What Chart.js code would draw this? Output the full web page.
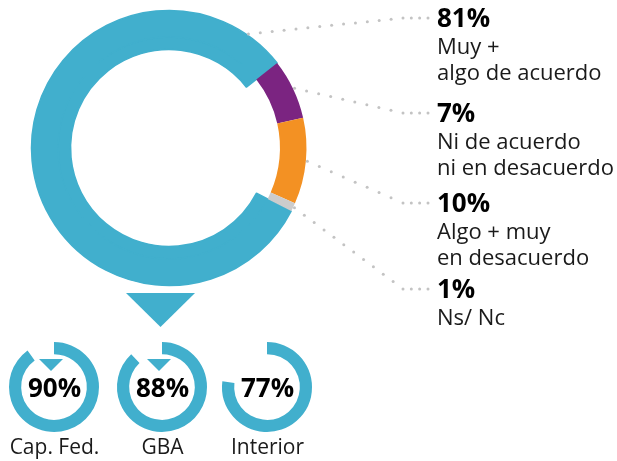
<!DOCTYPE html>
<html>
<head>
<meta charset="utf-8">
<script src="https://cdn.jsdelivr.net/npm/chart.js@4.4.0/dist/chart.umd.min.js"></script>
<style>
  body { margin: 0; background: #fff; }
  #wrap { position: relative; width: 617px; height: 461px; overflow: hidden; }
  canvas { position: absolute; }
</style>
</head>
<body>
<div id="wrap">
  <canvas id="main" width="617" height="461" style="left:0;top:0"></canvas>
  <canvas id="s0" width="108" height="129" style="left:0;top:332px"></canvas>
  <canvas id="s1" width="108" height="129" style="left:108px;top:332px"></canvas>
  <canvas id="s2" width="108" height="129" style="left:213px;top:332px"></canvas>
</div>
<script>
// data
const categories = [['Muy +', 'algo de acuerdo'], ['Ni de acuerdo', 'ni en desacuerdo'], ['Algo + muy', 'en desacuerdo'], ['Ns/ Nc']];
const values = [81, 7, 10, 1];
const regions = ['Cap. Fed.', 'GBA', 'Interior'];
const regionValues = [90, 88, 77];

const BLUE = '#41afcd';
const colors = [BLUE, '#7b2481', '#f39123', '#cccccc'];
const NONE = 'rgba(0,0,0,0)';
const FONT = "'Open Sans', 'Noto Sans', sans-serif";

// where the percentage labels sit (baselines) on the right
const pctBaseline = [27, 122, 212, 298];
const textX = 437, elbowX = 403, leaderEndX = 428;

function dots(ctx, x0, y0, x1, y1, step) {
    const len = Math.hypot(x1 - x0, y1 - y0);
    const n = Math.max(1, Math.round(len / step));
    for (let k = 0; k <= n; k++) {
        const t = k / n;
        ctx.beginPath();
        ctx.arc(x0 + (x1 - x0) * t, y0 + (y1 - y0) * t, 1.5, 0, Math.PI * 2);
        ctx.fill();
    }
}

const mainDecor = {
    id: 'mainDecor',
    afterDatasetsDraw(chart) {
        const ctx = chart.ctx;
        const arcs = chart.getDatasetMeta(0).data;
        const cx = arcs[0].x, cy = arcs[0].y, r = arcs[0].outerRadius;
        ctx.save();
        // leader lines
        ctx.fillStyle = '#c3c3c3';
        arcs.forEach((arc, i) => {
            const a = i === 0 ? arc.endAngle - 17 * Math.PI / 180 : (arc.startAngle + arc.endAngle) / 2;
            const sx = cx + (r + 1.5) * Math.cos(a), sy = cy + (r + 1.5) * Math.sin(a);
            const ty = pctBaseline[i] - 9;
            dots(ctx, sx, sy, elbowX, ty, 12.3);
            dots(ctx, elbowX + 8.3, ty, leaderEndX, ty, 8.3);
        });
        // labels
        ctx.textAlign = 'left';
        ctx.textBaseline = 'alphabetic';
        values.forEach((v, i) => {
            ctx.fillStyle = '#000';
            ctx.font = 'bold 26px ' + FONT;
            ctx.fillText(v + '%', textX, pctBaseline[i]);
            ctx.fillStyle = '#1a1a1a';
            ctx.font = '22px ' + FONT;
            categories[i].forEach((line, j) => {
                ctx.fillText(line, textX, pctBaseline[i] + 26.5 * (j + 1));
            });
        });
        // pointer triangle under the big ring
        const tx = cx - 8.5, ty = cy + r + 7.5;
        ctx.fillStyle = BLUE;
        ctx.beginPath();
        ctx.moveTo(tx - 34.5, ty);
        ctx.lineTo(tx + 34.5, ty);
        ctx.lineTo(tx, ty + 34);
        ctx.closePath();
        ctx.fill();
        ctx.restore();
    }
};

new Chart(document.getElementById('main'), {
    type: 'doughnut',
    data: {
        labels: categories.map(c => c.join(' ')),
        datasets: [
            { data: values, backgroundColor: colors,
              borderColor: colors.map((c, i) => i === 0 ? c : NONE),
              borderWidth: [1.5, 0, 0, 0], weight: 26.5 },
            { data: values, backgroundColor: colors.map((c, i) => i === 0 ? c : NONE),
              borderColor: colors.map((c, i) => i === 0 ? c : NONE),
              borderWidth: [1.5, 0, 0, 0], weight: 12.5 }
        ]
    },
    options: {
        responsive: false,
        animation: false,
        events: [],
        radius: 137.5,
        cutout: '71.6%',
        rotation: 117.3,
        layout: { padding: { left: 0, top: 0, right: 279, bottom: 165 } },
        plugins: { legend: { display: false }, tooltip: { enabled: false } }
    },
    plugins: [mainDecor]
});

const smallDecor = {
    id: 'smallDecor',
    afterDatasetsDraw(chart, args, opts) {
        const ctx = chart.ctx;
        const arc = chart.getDatasetMeta(0).data[0];
        const cx = arc.x, cy = arc.y;
        ctx.save();
        if (opts.pointer) {
            ctx.fillStyle = BLUE;
            ctx.beginPath();
            ctx.moveTo(cx - 15, cy - 28);
            ctx.lineTo(cx + 9, cy - 28);
            ctx.lineTo(cx - 3, cy - 16);
            ctx.closePath();
            ctx.fill();
        }
        ctx.textAlign = 'center';
        ctx.textBaseline = 'alphabetic';
        ctx.fillStyle = '#000';
        ctx.font = 'bold 26px ' + FONT;
        ctx.fillText(opts.value + '%', cx + 0.5, cy + 9.5);
        ctx.fillStyle = '#1a1a1a';
        ctx.font = '21px ' + FONT;
        ctx.fillText(opts.label, cx + 0.5, cy + 67);
        ctx.restore();
    }
};

regions.forEach((name, i) => {
    new Chart(document.getElementById('s' + i), {
        type: 'doughnut',
        data: {
            labels: [name, ''],
            datasets: [{ data: [regionValues[i], 100 - regionValues[i]],
                         backgroundColor: [BLUE, NONE], borderWidth: 0 }]
        },
        options: {
            responsive: false,
            animation: false,
            events: [],
            radius: 45,
            cutout: '73%',
            layout: { padding: { left: 0, top: 0, right: 0, bottom: 19 } },
            plugins: {
                legend: { display: false }, tooltip: { enabled: false },
                smallDecor: { label: name, value: regionValues[i], pointer: i < 2 }
            }
        },
        plugins: [smallDecor]
    });
});
</script>
</body>
</html>
